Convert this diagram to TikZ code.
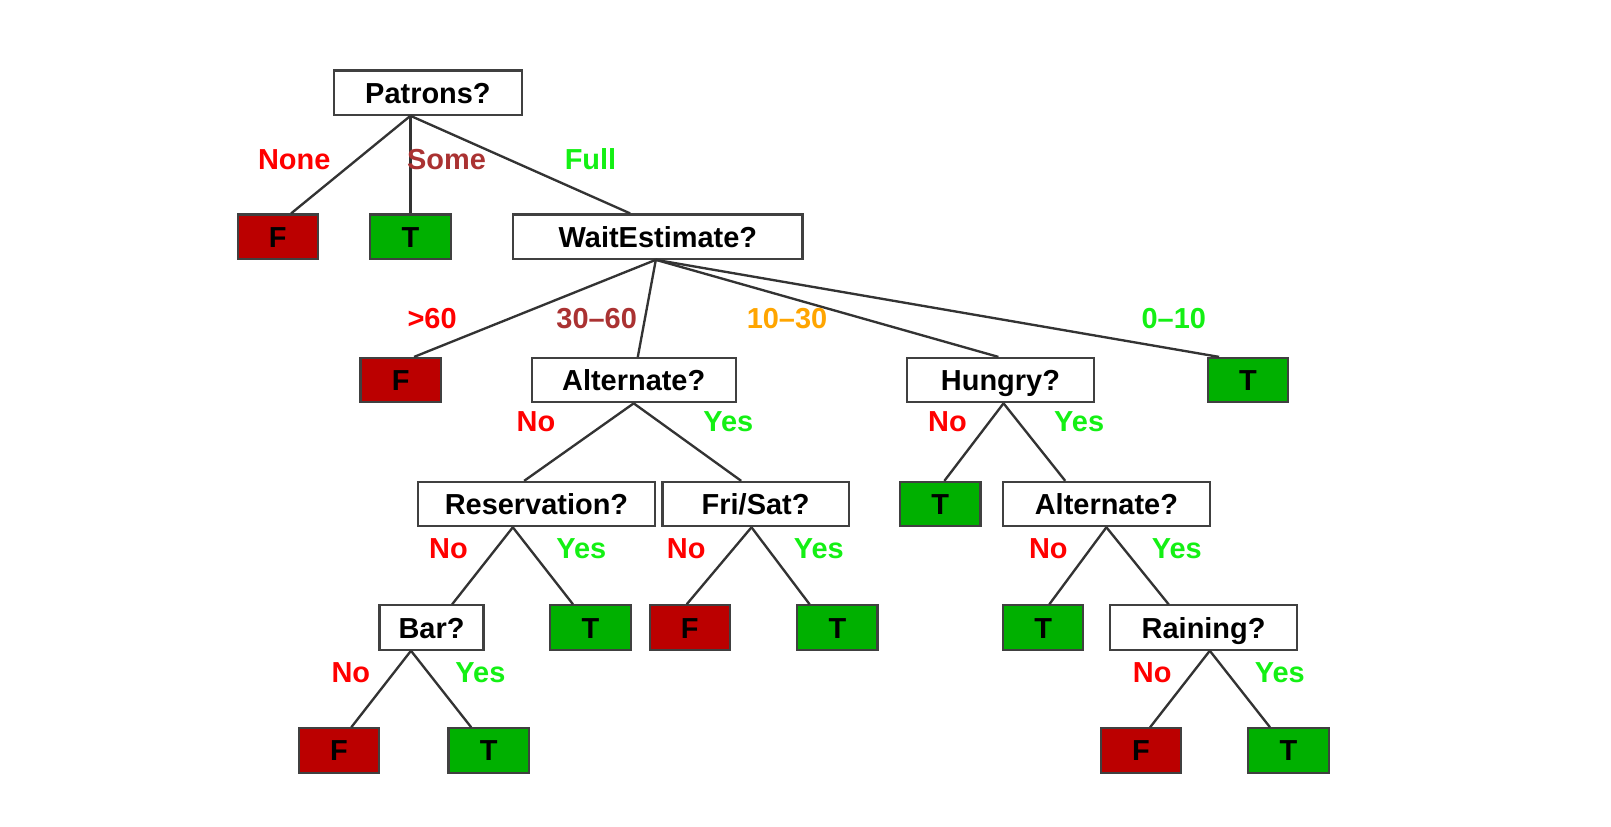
\documentclass[tikz,border=0pt]{standalone}
\usepackage{fontspec}
\setmainfont{Liberation Sans}
\usetikzlibrary{calc}

\definecolor{fred}{RGB}{187,0,0}
\definecolor{tgreen}{RGB}{0,176,0}
\definecolor{lgreen}{RGB}{20,240,20}
\definecolor{lbrown}{RGB}{170,50,50}
\definecolor{lorange}{RGB}{255,165,0}

\begin{document}
\begin{tikzpicture}[x=0.01cm,y=-0.01cm,
    every node/.style={font=\fontsize{8}{9}\selectfont\bfseries},
    attr/.style={draw=black!75, line width=0.6pt, fill=white, minimum height=0.43cm, inner sep=0pt,
        text height=1.55ex, text depth=0.45ex},
    leafF/.style={attr, fill=fred, minimum width=0.78cm},
    leafT/.style={attr, fill=tgreen, minimum width=0.78cm},
    branch/.style={black!80, line width=0.65pt},
    no/.style={text=red}, yes/.style={text=lgreen}]

    \useasboundingbox (0,0) rectangle (1566,803);

    % tests
    \node[attr, minimum width=1.82cm] (patrons) at (416,90) {Patrons?};
    \node[attr, minimum width=2.81cm] (wait) at (639.5,230) {WaitEstimate?};
    \node[attr, minimum width=1.98cm] (alt) at (616,369.5) {Alternate?};
    \node[attr, minimum width=1.81cm] (hungry) at (972.5,369.5) {Hungry?};
    \node[attr, minimum width=2.31cm] (res) at (521.5,490) {Reservation?};
    \node[attr, minimum width=1.81cm] (frisat) at (734.5,490) {Fri/Sat?};
    \node[attr, minimum width=2.01cm] (altb) at (1075.5,490) {Alternate?};
    \node[attr, minimum width=1.01cm] (bar) at (419.5,610) {Bar?};
    \node[attr, minimum width=1.82cm] (rain) at (1170,610) {Raining?};

    % leaves
    \node[leafF] (F1) at (270,230) {F};
    \node[leafT] (T1) at (399,230) {T};
    \node[leafF] (F2) at (389.5,369.5) {F};
    \node[leafT] (T2) at (1213,369.5) {T};
    \node[leafT] (T3) at (914,490) {T};
    \node[leafT] (T4) at (574,610) {T};
    \node[leafF] (F3) at (670.5,610) {F};
    \node[leafT] (T5) at (814,610) {T};
    \node[leafT] (T6) at (1014,610) {T};
    \node[leafF] (F4) at (329.5,729.5) {F};
    \node[leafT] (T7) at (475,729.5) {T};
    \node[leafF] (F5) at (1109,729.5) {F};
    \node[leafT] (T8) at (1252.5,729.5) {T};

    \foreach \p/\dp/\c/\dc in {patrons/-17/F1/13, patrons/-17/T1/0, patrons/-17/wait/-27,
        wait/-2/F2/13, wait/-2/alt/4, wait/-2/hungry/-2, wait/-2/T2/-28,
        alt/0/res/-12, alt/0/frisat/-14, hungry/3/T3/4, hungry/3/altb/-40,
        res/-23/bar/20, res/-23/T4/-17, frisat/-4/F3/-3, frisat/-4/T5/-27,
        altb/0/T6/6, altb/0/rain/-34,
        bar/-20/F4/12, bar/-20/T7/-17, rain/6/F5/9, rain/6/T8/-18}
        \draw[branch] ([shift={(\dp,0)}]\p.south) -- ([shift={(\dc,0)}]\c.north);

    % branch labels
    \node[no] (lnone) at (286,155) {None};
    \node[text=lbrown] (lsome) at (434,155) {Some};
    \node[yes] (lfull) at (574,155) {Full};
    \node[no] (l60) at (420,310) {>60};
    \node[text=lbrown] (l3060) at (580,310) {30--60};
    \node[text=lorange] (l1030) at (765,310) {10--30};
    \node[yes] (l010) at (1141,310) {0--10};
    \node[no] (altno) at (521,410) {No};
    \node[yes] (altyes) at (708,410) {Yes};
    \node[no] (hunno) at (921,410) {No};
    \node[yes] (hunyes) at (1049,410) {Yes};
    \node[no] (resno) at (436,533) {No};
    \node[yes] (resyes) at (565,533) {Yes};
    \node[no] (frino) at (667,533) {No};
    \node[yes] (friyes) at (796,533) {Yes};
    \node[no] (altbno) at (1019,533) {No};
    \node[yes] (altbyes) at (1144,533) {Yes};
    \node[no] (barno) at (341,654) {No};
    \node[yes] (baryes) at (467,654) {Yes};
    \node[no] (rainno) at (1120,654) {No};
    \node[yes] (rainyes) at (1244,654) {Yes};

\end{tikzpicture}
\end{document}
